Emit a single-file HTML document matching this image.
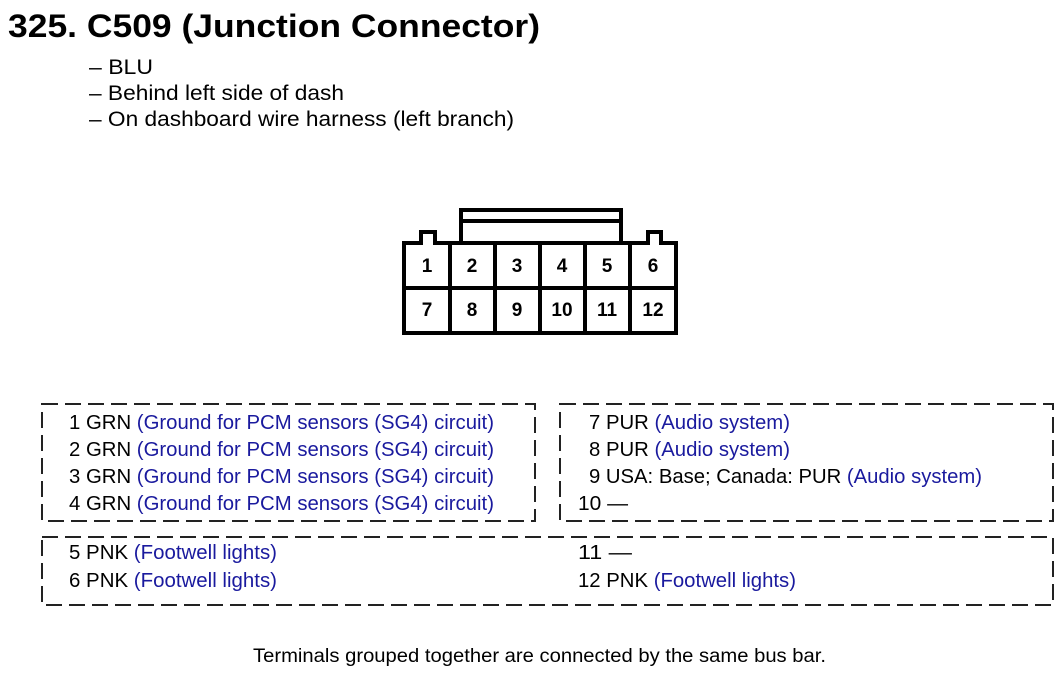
<!DOCTYPE html>
<html><head><meta charset="utf-8"><style>
html,body{margin:0;padding:0;background:#fff;}
svg{display:block;}
text{font-family:"Liberation Sans",Arial,sans-serif;}
.b{fill:#1a1a9e;}
</style></head><body>
<svg width="1062" height="678" viewBox="0 0 1062 678" xmlns="http://www.w3.org/2000/svg">
<text x="8" y="37" font-size="32" font-weight="bold" textLength="532" lengthAdjust="spacingAndGlyphs">325. C509 (Junction Connector)</text>
<text x="89" y="74" font-size="21" textLength="64" lengthAdjust="spacingAndGlyphs">– BLU</text>
<text x="89" y="100" font-size="21" textLength="255" lengthAdjust="spacingAndGlyphs">– Behind left side of dash</text>
<text x="89" y="126" font-size="21" textLength="425" lengthAdjust="spacingAndGlyphs">– On dashboard wire harness (left branch)</text>

<g fill="none" stroke="#000" stroke-width="4">
<rect x="461" y="210" width="160" height="34"/>
<line x1="461" y1="221" x2="621" y2="221"/>
<path d="M404,333 V243 H421 V232 H435 V243 H648 V232 H661 V243 H676 V333 Z" fill="#fff"/>
<line x1="404" y1="288" x2="676" y2="288"/>
<line x1="450" y1="243" x2="450" y2="333"/>
<line x1="495" y1="243" x2="495" y2="333"/>
<line x1="540" y1="243" x2="540" y2="333"/>
<line x1="585" y1="243" x2="585" y2="333"/>
<line x1="630" y1="243" x2="630" y2="333"/>
</g>
<g font-size="19" font-weight="bold" text-anchor="middle">
<text x="427" y="272">1</text><text x="472" y="272">2</text><text x="517" y="272">3</text><text x="562" y="272">4</text><text x="607" y="272">5</text><text x="653" y="272">6</text>
<text x="427" y="316">7</text><text x="472" y="316">8</text><text x="517" y="316">9</text><text x="562" y="316">10</text><text x="607" y="316">11</text><text x="653" y="316">12</text>
</g>

<g fill="none" stroke="#222" stroke-width="2" stroke-dasharray="16 7">
<rect x="42" y="404" width="493" height="117"/>
<rect x="560" y="404" width="493" height="117"/>
<rect x="42" y="537" width="1011" height="68"/>
</g>

<g font-size="20" lengthAdjust="spacingAndGlyphs">
<text x="69" y="429" textLength="425" lengthAdjust="spacingAndGlyphs">1 GRN <tspan class="b">(Ground for PCM sensors (SG4) circuit)</tspan></text>
<text x="69" y="456" textLength="425" lengthAdjust="spacingAndGlyphs">2 GRN <tspan class="b">(Ground for PCM sensors (SG4) circuit)</tspan></text>
<text x="69" y="483" textLength="425" lengthAdjust="spacingAndGlyphs">3 GRN <tspan class="b">(Ground for PCM sensors (SG4) circuit)</tspan></text>
<text x="69" y="510" textLength="425" lengthAdjust="spacingAndGlyphs">4 GRN <tspan class="b">(Ground for PCM sensors (SG4) circuit)</tspan></text>
<text x="589" y="429" textLength="201" lengthAdjust="spacingAndGlyphs">7 PUR <tspan class="b">(Audio system)</tspan></text>
<text x="589" y="456" textLength="201" lengthAdjust="spacingAndGlyphs">8 PUR <tspan class="b">(Audio system)</tspan></text>
<text x="589" y="483" textLength="393" lengthAdjust="spacingAndGlyphs">9 USA: Base; Canada: PUR <tspan class="b">(Audio system)</tspan></text>
<text x="578" y="510" textLength="50" lengthAdjust="spacingAndGlyphs">10 —</text>
<text x="69" y="559" textLength="208" lengthAdjust="spacingAndGlyphs">5 PNK <tspan class="b">(Footwell lights)</tspan></text>
<text x="69" y="587" textLength="208" lengthAdjust="spacingAndGlyphs">6 PNK <tspan class="b">(Footwell lights)</tspan></text>
<text x="578" y="559" textLength="54" lengthAdjust="spacingAndGlyphs">11 —</text>
<text x="578" y="587" textLength="218" lengthAdjust="spacingAndGlyphs">12 PNK <tspan class="b">(Footwell lights)</tspan></text>
</g>

<text x="253" y="662" font-size="19" textLength="573" lengthAdjust="spacingAndGlyphs">Terminals grouped together are connected by the same bus bar.</text>
</svg>
</body></html>
